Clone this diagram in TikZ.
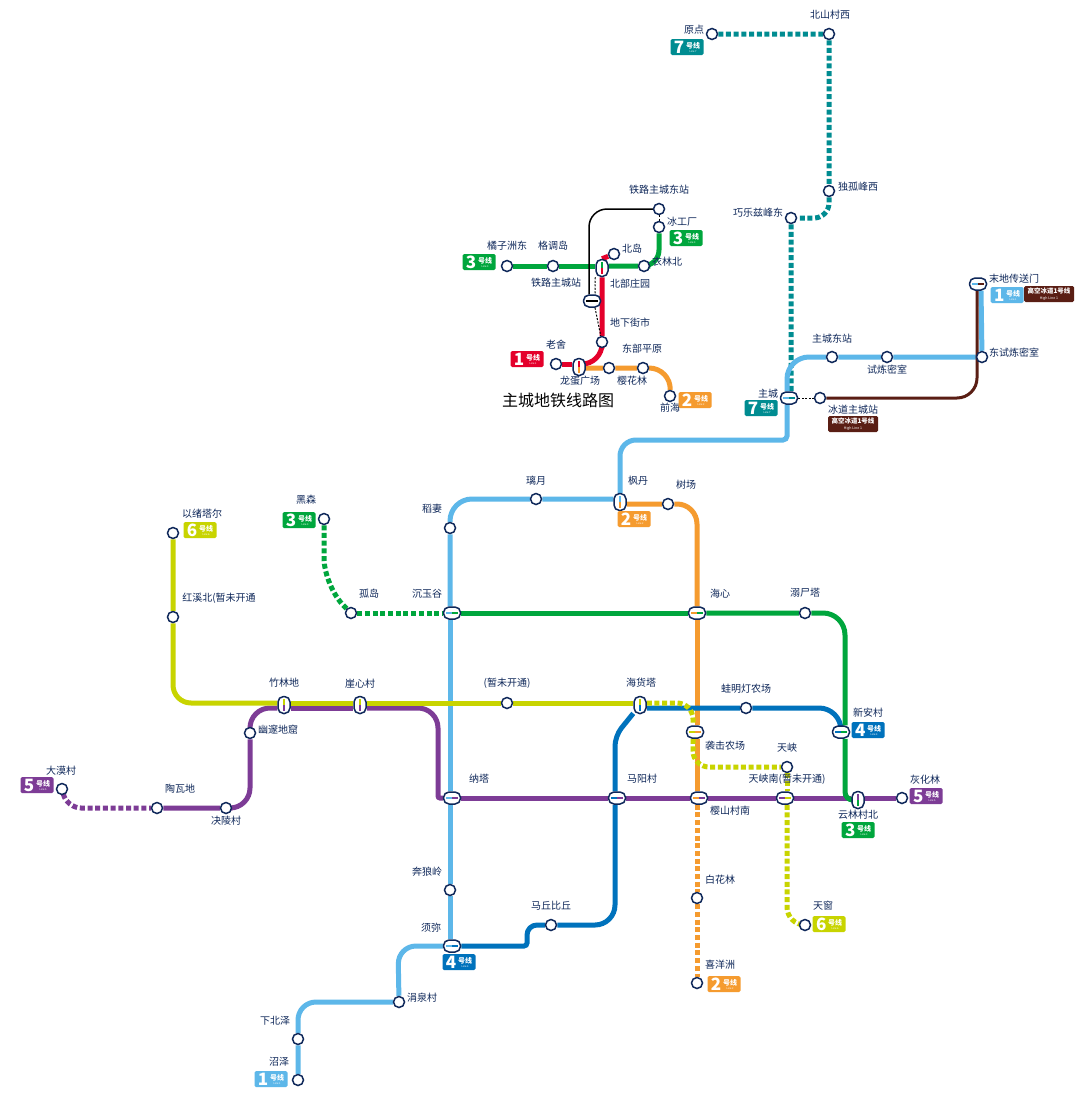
\documentclass[tikz,border=0pt]{standalone}
\usepackage{fontspec}
\setmainfont{Noto Sans CJK SC}
\usepackage{xcolor}
\usetikzlibrary{backgrounds}
\definecolor{lineblue}{RGB}{93,183,233}
\definecolor{linered}{RGB}{228,0,43}
\definecolor{lineorange}{RGB}{245,155,47}
\definecolor{linegreen}{RGB}{0,166,61}
\definecolor{linedeep}{RGB}{0,114,188}
\definecolor{linepurple}{RGB}{125,60,150}
\definecolor{lineyellow}{RGB}{200,212,0}
\definecolor{lineteal}{RGB}{0,140,145}
\definecolor{linehigh}{RGB}{90,30,20}
\definecolor{stnnavy}{RGB}{15,40,90}
\newcommand{\bdgtxt}[1]{{\fontsize{17}{17}\bfseries\selectfont #1}\,\raisebox{0.5pt}{\shortstack[c]{\fontsize{7}{7}\bfseries\selectfont 号线\\[-1.5pt]\fontsize{2.5}{3}\selectfont Line #1}}}
\newcommand{\hghtxt}{\shortstack[c]{\fontsize{6.5}{7}\bfseries\selectfont 高空冰道1号线\\[-1pt]\fontsize{3.5}{4}\mdseries\selectfont High Line 1}}
\begin{document}
\begin{tikzpicture}[
  x=1pt,y=-1pt,
  stn/.style={circle,draw=stnnavy,line width=1.5pt,fill=white,minimum size=11pt,inner sep=0pt},
  hub/.style={rectangle,rounded corners=5.5pt,draw=stnnavy,line width=1.5pt,fill=white,inner sep=0pt},
  hubh/.style 2 args={hub,minimum width=17pt,minimum height=12pt,path picture={
    \fill[#1,sharp corners] ([shift={(-6pt,-1.2pt)}]path picture bounding box.center) rectangle ([shift={(0pt,1.2pt)}]path picture bounding box.center);
    \fill[#2,sharp corners] ([shift={(0pt,-1.2pt)}]path picture bounding box.center) rectangle ([shift={(6pt,1.2pt)}]path picture bounding box.center);}},
  hubv/.style 2 args={hub,minimum width=12pt,minimum height=17pt,path picture={
    \fill[#1,sharp corners] ([shift={(-1.2pt,0pt)}]path picture bounding box.center) rectangle ([shift={(1.2pt,6pt)}]path picture bounding box.center);
    \fill[#2,sharp corners] ([shift={(-1.2pt,-6pt)}]path picture bounding box.center) rectangle ([shift={(1.2pt,0pt)}]path picture bounding box.center);}},
  lbl/.style={font=\fontsize{10}{10}\selectfont,text=stnnavy,inner sep=0pt},
  bdg/.style={fill=#1,text=white,rounded corners=1.5pt,minimum width=33pt,minimum height=16pt,inner sep=0pt},
  hbdg/.style={fill=linehigh,text=white,rounded corners=1.5pt,minimum width=50pt,minimum height=16pt,inner sep=0pt},
  lsolid/.style={line width=5pt,draw=#1},
  ldot/.style={line width=5pt,draw=#1,dash pattern=on 5pt off 2.7pt},
  lthin/.style={line width=1pt,draw=black,dash pattern=on 2pt off 1.5pt}
]
\useasboundingbox (0,0) rectangle (1088,1100);
% stations
\node[stn] (yuandian) at (712,34) {};
\node[stn] (beishan) at (829,34) {};
\node[stn] (dugu) at (829,191) {};
\node[stn] (qiaole) at (791,218) {};
\node[hubh={lineblue}{lineteal}] (zhucheng) at (789,398) {};
\node[hubh={lineblue}{linehigh}] (modi) at (978,284) {};
\node[stn] (dongshi) at (982,357) {};
\node[stn] (shilian) at (887,357) {};
\node[stn] (zcdong) at (832,357) {};
\node[stn] (bingdao) at (820,398) {};
\node[stn] (dongzhan) at (659,209) {};
\node[stn] (bingong) at (659,227) {};
\node[stn] (yilin) at (644,266) {};
\node[hubv={linegreen}{linered}] (beibu) at (602,268) {};
\node[stn] (gediao) at (553,266) {};
\node[stn] (juzi) at (507,266) {};
\node[stn] (beidao) at (614,254) {};
\node[hubh={black}{black}] (tielu) at (592,301) {};
\node[stn] (dixia) at (602,342) {};
\node[stn] (laoshe) at (556,364) {};
\node[hubv={linered}{lineorange}] (longdan) at (579,367) {};
\node[stn] (yinghua) at (609,368) {};
\node[stn] (dongbu) at (643,368) {};
\node[stn] (qianhai) at (670,396) {};
\node[hubv={lineblue}{lineorange}] (fengdan) at (620,502) {};
\node[stn] (liyue) at (536,499) {};
\node[stn] (daoqi) at (450,528) {};
\node[hubh={lineblue}{linegreen}] (chenyu) at (452,613) {};
\node[hubh={lineblue}{linepurple}] (nata) at (452,798) {};
\node[stn] (benlang) at (450,890) {};
\node[hubh={lineblue}{linedeep}] (xumi) at (452,946) {};
\node[stn] (juanquan) at (399,1002) {};
\node[stn] (xiabei) at (298,1039) {};
\node[stn] (zhaoze) at (298,1080) {};
\node[stn] (shuchang) at (668,504) {};
\node[hubh={lineorange}{linegreen}] (haixin) at (697,613) {};
\node[hubh={lineyellow}{lineorange}] (xiji) at (695,732) {};
\node[hubh={lineorange}{linepurple}] (yingshan) at (699,798) {};
\node[stn] (baihua) at (697,898) {};
\node[stn] (xiyang) at (697,983) {};
\node[stn] (heisen) at (324,519) {};
\node[stn] (gudao) at (351,613) {};
\node[stn] (nishi) at (805,613) {};
\node[hubh={linedeep}{linegreen}] (xinan) at (841,732) {};
\node[hubv={linepurple}{linegreen}] (yunlin) at (858,800) {};
\node[stn] (huihua) at (902,798) {};
\node[stn] (yixu) at (173,533) {};
\node[stn] (hongxi) at (173,617) {};
\node[hubv={lineyellow}{linepurple}] (zhulin) at (284,705) {};
\node[hubv={lineyellow}{linepurple}] (yaxin) at (360,705) {};
\node[stn] (zanwei) at (507,703) {};
\node[hubv={lineyellow}{linedeep}] (haihuo) at (640,705) {};
\node[stn] (wamingdeng) at (746,708) {};
\node[stn] (tianxia) at (787,767) {};
\node[hubh={linepurple}{lineyellow}] (tiannan) at (785,798) {};
\node[stn] (tianchuang) at (805,925) {};
\node[hubh={linedeep}{linepurple}] (mayang) at (617,798) {};
\node[stn] (maqiu) at (551,925) {};
\node[stn] (youwei) at (250,733) {};
\node[stn] (jueling) at (226,808) {};
\node[stn] (taowa) at (157,808) {};
\node[stn] (damo) at (62,789) {};
% lines
\begin{scope}[on background layer]
\fill[white] (0,0) rectangle (1088,1100);
\draw[ldot=lineteal,rounded corners=15pt] (yuandian) -- (beishan) -- (dugu) -- (829,218) -- (qiaole) -- ([xshift=2pt]zhucheng.north);
\draw[lsolid=lineorange,rounded corners=20pt] ([yshift=-2pt]fengdan.east) -- (shuchang) -- (697,504) -- (haixin.north);
\draw[lsolid=lineorange] (haixin.south) -- ([xshift=2pt]xiji.north);
\draw[lsolid=lineorange] ([xshift=2pt]xiji.south) -- ([xshift=-2pt]yingshan.north);
\draw[ldot=lineorange] ([xshift=-2pt]yingshan.south) -- (baihua) -- (xiyang);
\draw[lsolid=lineorange,rounded corners=22pt] ([yshift=-1pt]longdan.east) -- (yinghua) -- (dongbu) -- (671,368) -- (qianhai);
\draw[lsolid=lineblue,rounded corners=22pt] ([xshift=3pt]modi.south) -- (dongshi) -- (shilian) -- (zcdong) -- (787,357) -- ([xshift=-2pt]zhucheng.north);
\draw[lsolid=lineblue,rounded corners=4pt] ([xshift=-2pt]zhucheng.south) -- (787,440) [rounded corners=16pt] -- (620,440) -- (fengdan.north);
\draw[lsolid=lineblue,rounded corners=22pt] ([yshift=3pt]fengdan.west) -- (liyue) -- (450,499) -- (daoqi) -- ([xshift=-2pt]chenyu.north);
\draw[lsolid=lineblue] ([xshift=-2pt]chenyu.south) -- ([xshift=-2pt]nata.north);
\draw[lsolid=lineblue] ([xshift=-2pt]nata.south) -- (benlang) -- ([xshift=-2pt]xumi.north);
\draw[lsolid=lineblue,rounded corners=18pt] (xumi.west) -- (398,946) -- (juanquan) -- (298,1002) -- (xiabei) -- (zhaoze);
\draw[lsolid=linedeep,rounded corners=3pt] (xumi.east) -- (527,946) [rounded corners=10pt] -- (527,925) -- (maqiu) [rounded corners=20pt] -- (615,925) -- ([xshift=-2pt]mayang.south);
\draw[lsolid=linedeep,rounded corners=10pt] ([xshift=-2pt]mayang.north) -- (615,736) -- (haihuo);
\draw[lsolid=linedeep,rounded corners=22pt] ([yshift=-3pt]haihuo.east) -- (wamingdeng) -- (841,708) -- (xinan.north);
\draw[lsolid=linepurple,rounded corners=20pt] (taowa) -- (jueling) -- (250,808) -- (youwei) -- (250,708) -- ([yshift=-3pt]zhulin.west);
\draw[lsolid=linepurple] ([yshift=-3pt]zhulin.east) -- ([yshift=-3pt]yaxin.west);
\draw[lsolid=linepurple,rounded corners=20pt] ([yshift=-3pt]yaxin.east) -- (438,708) [rounded corners=2pt] -- (438,798) -- (nata.west);
\draw[lsolid=linepurple] (nata.east) -- (mayang.west);
\draw[lsolid=linepurple] (mayang.east) -- (yingshan.west);
\draw[lsolid=linepurple] (yingshan.east) -- (tiannan.west);
\draw[lsolid=linepurple] (tiannan.east) -- ([yshift=2pt]yunlin.west);
\draw[lsolid=linepurple] ([yshift=2pt]yunlin.east) -- (huihua);
\draw[ldot=linepurple,rounded corners=14pt] (damo) -- (67,808) -- (taowa);
\draw[ldot=linegreen,rounded corners=28pt] (heisen) -- (324,586) -- (gudao);
\draw[ldot=linegreen] (gudao) -- (chenyu.west);
\draw[lsolid=linegreen] (chenyu.east) -- (haixin.west);
\draw[lsolid=linegreen,rounded corners=22pt] (haixin.east) -- (nishi) -- (845,613) -- ([xshift=4pt]xinan.north);
\draw[lsolid=linegreen,rounded corners=8pt] ([xshift=4pt]xinan.south) -- (845,800) -- (yunlin.west);
\draw[lsolid=linegreen] (juzi) -- (gediao) -- ([yshift=2pt]beibu.west);
\draw[lsolid=linegreen,rounded corners=16pt] ([yshift=2pt]beibu.east) -- (yilin) -- (659,266) -- (bingong);
\draw[lsolid=linered] (laoshe) -- ([yshift=3pt]longdan.west);
\draw[lsolid=linered,rounded corners=20pt] ([yshift=3pt]longdan.east) -- (602,364) -- (dixia) -- (beibu.south);
\draw[lsolid=linered] (beibu.north) -- (beidao);
\draw[lsolid=lineyellow,rounded corners=18pt] (yixu) -- (hongxi) -- (173,703) -- ([yshift=2pt]zhulin.west);
\draw[lsolid=lineyellow] ([yshift=2pt]zhulin.east) -- ([yshift=2pt]yaxin.west);
\draw[lsolid=lineyellow] ([yshift=2pt]yaxin.east) -- (zanwei) -- ([yshift=2pt]haihuo.west);
\draw[ldot=lineyellow,rounded corners=16pt] ([yshift=2pt]haihuo.east) -- (693,703) -- ([xshift=-2pt]xiji.north);
\draw[ldot=lineyellow,rounded corners=16pt] ([xshift=-2pt]xiji.south) -- (693,767) -- (tianxia);
\draw[ldot=lineyellow] (tianxia) -- ([xshift=2pt]tiannan.north);
\draw[ldot=lineyellow,rounded corners=18pt] ([xshift=2pt]tiannan.south) -- (787,925) -- (tianchuang);
\draw[line width=3pt,draw=linehigh,rounded corners=20pt] (bingdao) -- (977,398) -- ([xshift=-1pt]modi.south);
\draw[line width=1.5pt,draw=black,rounded corners=18pt] (dongzhan) -- (589,209) -- ([xshift=-3pt]tielu.north);
\draw[lthin] (dongzhan) -- (bingong);
\draw[lthin] (beibu.south west) -- ([xshift=3pt]tielu.north);
\draw[lthin] ([xshift=3pt]tielu.south) -- (dixia);
\draw[lthin] (zhucheng) -- (bingdao);
\end{scope}
% labels
\node[lbl] (tyuandian) at (694,30) {原点};
\node[lbl] (tbeishan) at (830,15) {北山村西};
\node[lbl] (tdugu) at (858,187) {独孤峰西};
\node[lbl] (tqiaole) at (758,213) {巧乐兹峰东};
\node[lbl] (tmodi) at (1014,279) {末地传送门};
\node[lbl] (tdongshi) at (1014,353) {东试炼密室};
\node[lbl] (tzcdong) at (832,339) {主城东站};
\node[lbl] (tshilian) at (887,370) {试炼密室};
\node[lbl] (tzhucheng) at (768,394) {主城};
\node[lbl] (tbingdao) at (853,410) {冰道主城站};
\node[lbl] (tdongzhan) at (659,190) {铁路主城东站};
\node[lbl] (tbingong) at (682,222) {冰工厂};
\node[lbl] (tjuzi) at (507,246) {橘子洲东};
\node[lbl] (tgediao) at (553,246) {格调岛};
\node[lbl] (ttielu) at (556,283) {铁路主城站};
\node[lbl] (tbeidao) at (632,249) {北岛};
\node[lbl] (tyilin) at (667,262) {衣林北};
\node[lbl] (tbeibu) at (630,284) {北部庄园};
\node[lbl] (tdixia) at (630,323) {地下街市};
\node[lbl] (tlaoshe) at (556,345) {老舍};
\node[lbl] (tdongbu) at (642,349) {东部平原};
\node[lbl] (tlongdan) at (580,381) {龙蛋广场};
\node[lbl] (tyinghua) at (632,381) {樱花林};
\node[lbl] (tqianhai) at (670,408) {前海};
\node[font=\fontsize{16}{16}\selectfont,text=black,inner sep=0pt] (ttitle) at (558,400) {主城地铁线路图};
\node[lbl] (tliyue) at (536,481) {璃月};
\node[lbl] (tfengdan) at (638,481) {枫丹};
\node[lbl] (tshuchang) at (686,485) {树场};
\node[lbl] (tdaoqi) at (432,509) {稻妻};
\node[lbl] (theisen) at (306,500) {黑森};
\node[lbl] (tyixu) at (202,514) {以绪塔尔};
\node[lbl] (tgudao) at (369,594) {孤岛};
\node[lbl] (tchenyu) at (427,594) {沉玉谷};
\node[lbl] (thaixin) at (720,594) {海心};
\node[lbl] (tnishi) at (805,593) {溺尸塔};
\node[lbl] (thongxi) at (219,598) {红溪北(暂未开通};
\node[lbl] (tzhulin) at (284,683) {竹林地};
\node[lbl] (tyaxin) at (360,684) {崖心村};
\node[lbl] (tzanwei) at (507,683) {(暂未开通)};
\node[lbl] (thaihuo) at (641,683) {海货塔};
\node[lbl] (twamingdeng) at (746,689) {蛙明灯农场};
\node[lbl] (txinan) at (868,713) {新安村};
\node[lbl] (tyouwei) at (278,730) {幽邃地窟};
\node[lbl] (txiji) at (725,746) {袭击农场};
\node[lbl] (ttianxia) at (787,748) {天峡};
\node[lbl] (tdamo) at (61,771) {大漠村};
\node[lbl] (ttaowa) at (180,789) {陶瓦地};
\node[lbl] (tjueling) at (226,821) {决陵村};
\node[lbl] (tnata) at (479,779) {纳塔};
\node[lbl] (tmayang) at (642,779) {马阳村};
\node[lbl] (ttiannan) at (787,779) {天峡南(暂未开通)};
\node[lbl] (thuihua) at (925,780) {灰化林};
\node[lbl] (tyingshan) at (730,811) {樱山村南};
\node[lbl] (tyunlin) at (858,815) {云林村北};
\node[lbl] (tbenlang) at (427,872) {奔狼岭};
\node[lbl] (tbaihua) at (720,880) {白花林};
\node[lbl] (tmaqiu) at (551,906) {马丘比丘};
\node[lbl] (txumi) at (431,928) {须弥};
\node[lbl] (ttianchuang) at (823,906) {天窗};
\node[lbl] (txiyang) at (720,965) {喜洋洲};
\node[lbl] (tjuanquan) at (422,998) {涓泉村};
\node[lbl] (txiabei) at (275,1021) {下北泽};
\node[lbl] (tzhaoze) at (279,1062) {沼泽};
% badges
\node[bdg=lineteal] (byuandian) at (687,47) {\bdgtxt{7}};
\node[bdg=linegreen] (bbingong) at (686,238) {\bdgtxt{3}};
\node[bdg=linegreen] (bjuzi) at (479,262) {\bdgtxt{3}};
\node[bdg=linered] (blaoshe) at (527,359) {\bdgtxt{1}};
\node[bdg=lineorange] (bqianhai) at (695,400) {\bdgtxt{2}};
\node[bdg=lineblue] (bmodi) at (1007,295) {\bdgtxt{1}};
\node[hbdg] (bmodih) at (1049,294) {\hghtxt};
\node[hbdg] (bbingdao) at (853,424) {\hghtxt};
\node[bdg=lineteal] (bzhucheng) at (761,408) {\bdgtxt{7}};
\node[bdg=lineorange] (bfengdan) at (634,519) {\bdgtxt{2}};
\node[bdg=linegreen] (bheisen) at (299,520) {\bdgtxt{3}};
\node[bdg=lineyellow] (byixu) at (200,530) {\bdgtxt{6}};
\node[bdg=linedeep] (bxinan) at (868,730) {\bdgtxt{4}};
\node[bdg=linepurple] (bhuihua) at (926,796) {\bdgtxt{5}};
\node[bdg=linegreen] (byunlin) at (858,830) {\bdgtxt{3}};
\node[bdg=linepurple] (bdamo) at (37,785) {\bdgtxt{5}};
\node[bdg=lineyellow] (btianchuang) at (829,924) {\bdgtxt{6}};
\node[bdg=lineorange] (bxiyang) at (724,984) {\bdgtxt{2}};
\node[bdg=linedeep] (bxumi) at (459,962) {\bdgtxt{4}};
\node[bdg=lineblue] (bzhaoze) at (271,1079) {\bdgtxt{1}};
\end{tikzpicture}
\end{document}
